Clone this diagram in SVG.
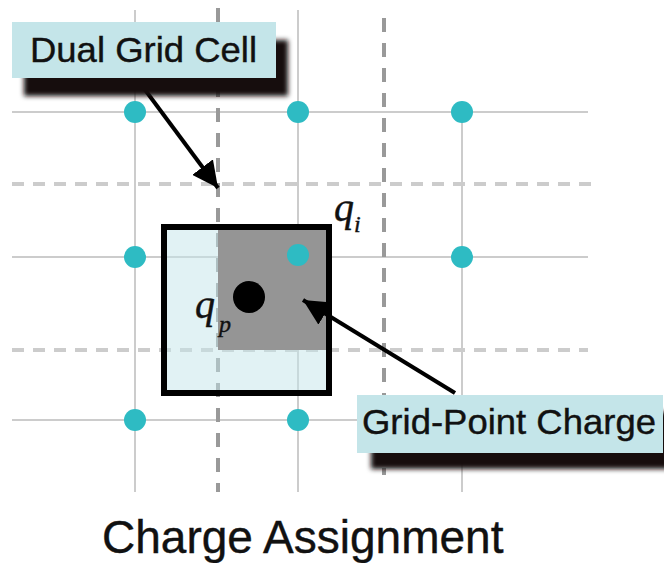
<svg xmlns="http://www.w3.org/2000/svg" width="664" height="563" viewBox="0 0 664 563">
<style>
.grid{stroke:#cccccc;stroke-width:2;fill:none}
.hdash{stroke:#cccccc;stroke-width:4;stroke-dasharray:12 9;fill:none}
.vdash{stroke:#999999;stroke-width:4;stroke-dasharray:14 11;fill:none}
.dot{fill:#2ebbc3}
.label{fill:#c4e5e9}
.shadow{fill:#120c0c;filter:url(#blur)}
.lt{font-family:"Liberation Sans",Arial,sans-serif;fill:#111;stroke:#111;stroke-width:0.4}
.math{font-family:"Liberation Serif","Times New Roman",serif;font-style:italic;fill:#111;stroke:#111;stroke-width:0.4}
.arrow{stroke:#000;stroke-width:4;fill:none;marker-end:url(#head)}
</style>
<defs>
<filter id="blur" x="-10%" y="-30%" width="120%" height="160%"><feGaussianBlur stdDeviation="2.5"/></filter>
<marker id="head" markerUnits="userSpaceOnUse" markerWidth="28" markerHeight="26" refX="26" refY="13" orient="auto"><path d="M0,0 L26,13 L0,26 z" fill="#000"/></marker>
</defs>
<rect width="664" height="563" fill="#fff"/>
<g id="grid">
<line class="grid" x1="12" y1="112" x2="588" y2="112"/>
<line class="grid" x1="12" y1="257" x2="588" y2="257"/>
<line class="grid" x1="12" y1="420" x2="588" y2="420"/>
<line class="grid" x1="135" y1="10" x2="135" y2="492"/>
<line class="grid" x1="298" y1="10" x2="298" y2="492"/>
<line class="grid" x1="462" y1="112" x2="462" y2="492"/>
<line class="hdash" x1="12" y1="184" x2="592" y2="184"/>
<line class="hdash" x1="12" y1="350" x2="588" y2="350"/>
<line class="vdash" x1="218" y1="8" x2="218" y2="492"/>
<line class="vdash" x1="384" y1="18" x2="384" y2="475"/>
</g>
<g id="cell">
<rect x="164" y="227" width="165" height="166" fill="#c4e5e9" fill-opacity="0.5"/>
<rect x="218" y="227" width="111" height="123" fill="#959595"/>
<rect x="164" y="227" width="165" height="166" fill="none" stroke="#000" stroke-width="6"/>
</g>
<g id="points">
<circle class="dot" cx="135" cy="112" r="11"/>
<circle class="dot" cx="298" cy="112" r="11"/>
<circle class="dot" cx="462" cy="112" r="11"/>
<circle class="dot" cx="135" cy="257" r="11"/>
<circle class="dot" cx="298" cy="255" r="11"/>
<circle class="dot" cx="462" cy="257" r="11"/>
<circle class="dot" cx="135" cy="420" r="11"/>
<circle class="dot" cx="298" cy="420" r="11"/>
<circle class="dot" cx="462" cy="420" r="11"/>
<circle cx="249" cy="297" r="16" fill="#000"/>
</g>
<g id="qi"><text class="math" x="334" y="221" font-size="40">q<tspan font-size="24" x="354" y="232">i</tspan></text></g>
<g id="qp"><text class="math" x="195" y="318" font-size="40">q<tspan font-size="24" x="219" y="332">p</tspan></text></g>
<g id="connectors">
<line class="arrow" x1="137" y1="79" x2="218" y2="188"/>
<line class="arrow" x1="455" y1="393" x2="303" y2="300"/>
</g>
<g id="dual-label">
<rect class="shadow" x="24" y="40" width="264" height="56"/>
<rect class="label" x="12" y="22" width="264" height="56"/>
<text class="lt" x="30" y="62" font-size="35" textLength="227" lengthAdjust="spacingAndGlyphs">Dual Grid Cell</text>
</g>
<g id="gpc-label">
<rect class="shadow" x="371" y="412" width="305" height="57"/>
<rect class="label" x="357" y="395" width="306" height="58"/>
<text class="lt" x="362" y="434" font-size="35" textLength="294" lengthAdjust="spacingAndGlyphs">Grid-Point Charge</text>
</g>
<g id="caption"><text class="lt" x="102" y="553" font-size="46">Charge Assignment</text></g>
</svg>
